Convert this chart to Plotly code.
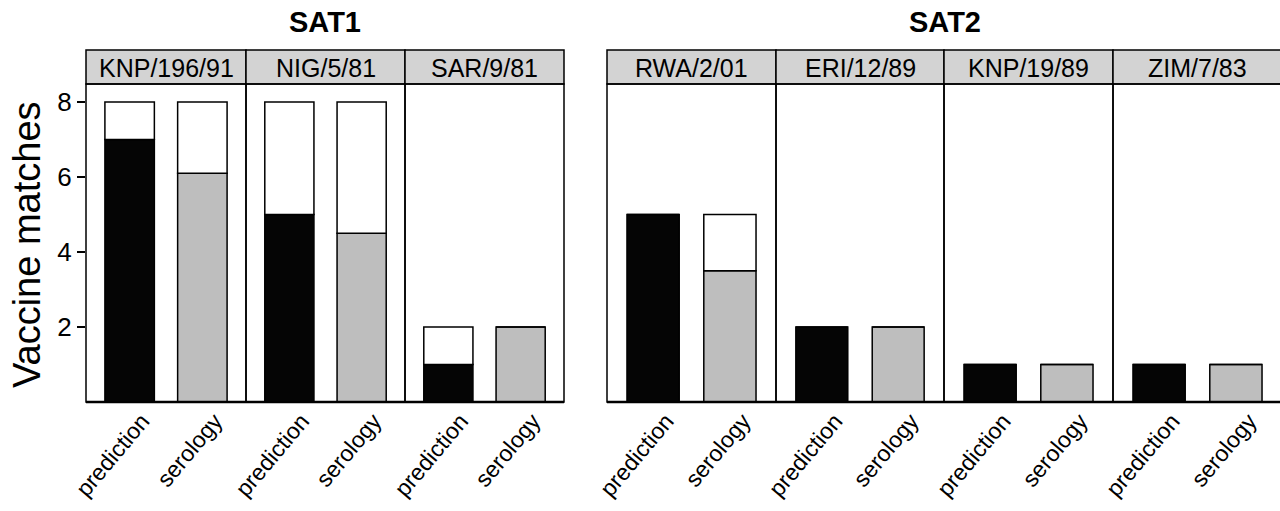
import plotly.graph_objects as go

# ---- data ----
sat1_strains = ["KNP/196/91", "NIG/5/81", "SAR/9/81"]
sat2_strains = ["RWA/2/01", "ERI/12/89", "KNP/19/89", "ZIM/7/83"]
methods = ["prediction", "serology"]
prediction = [7, 5, 1, 5, 2, 1, 1]
serology = [6.1, 4.5, 2, 3.5, 2, 1, 1]
total = [8, 8, 2, 5, 2, 1, 1]
group_titles = ["SAT1", "SAT2"]
y_ticks = [2, 4, 6, 8]

# ---- layout geometry (page pixels; page body margin removed below) ----
OFF = 0
W, H = 1280, 511
panel_px = [(86, 246), (246, 405), (405, 564),
            (607, 776), (776, 944), (944, 1113), (1113, 1282)]
plot_top, plot_bottom, strip_top = 84, 402, 50
YMAX = (plot_bottom - plot_top) / 37.5
LABEL_SHIFT = 0.17  # rotated labels sit slightly right of bar centres

def fx(px):
    return (px - OFF) / W

def fy(py):
    return 1 - (py - OFF) / H

strains = sat1_strains + sat2_strains
fig = go.Figure()
FONT = "Liberation Sans, Arial, Helvetica, sans-serif"
shapes = []
annotations = []

for i, s in enumerate(strains):
    n = i + 1
    xa = "x" if n == 1 else f"x{n}"
    ya = "y" if n == 1 else f"y{n}"
    x0, x1 = panel_px[i]
    width_nom = x1 - x0
    d1 = min(x1, 1280)
    rng_end = -0.6 + 2.2 * (d1 - x0) / width_nom
    base = [prediction[i], serology[i]]
    rest = [total[i] - prediction[i], total[i] - serology[i]]
    fig.add_trace(go.Bar(x=[0, 1], y=base, width=0.68, xaxis=xa, yaxis=ya,
                         marker=dict(color=["#050505", "#bebebe"],
                                     line=dict(color="black", width=1.5)),
                         showlegend=False, hoverinfo="skip"))
    fig.add_trace(go.Bar(x=[0, 1], y=rest, base=base, width=0.68, xaxis=xa, yaxis=ya,
                         marker=dict(color="white",
                                     line=dict(color="black", width=1.5)),
                         showlegend=False, hoverinfo="skip"))
    xkey = "xaxis" if n == 1 else f"xaxis{n}"
    ykey = "yaxis" if n == 1 else f"yaxis{n}"
    fig.layout[xkey] = dict(domain=[fx(x0), fx(d1)], range=[-0.6, rng_end],
                            anchor=ya,
                            tickvals=[LABEL_SHIFT, 1 + LABEL_SHIFT], ticktext=methods,
                            tickangle=-50, ticks="", showgrid=False, zeroline=False,
                            showline=False, automargin=False,
                            tickfont=dict(size=23, color="black", family=FONT))
    ydict = dict(domain=[fy(plot_bottom), fy(plot_top)], range=[0, YMAX],
                 anchor=xa, showgrid=False, zeroline=False, showline=False,
                 automargin=False)
    if n == 1:
        ydict.update(tickvals=y_ticks, ticks="outside", ticklen=8, tickwidth=1.5,
                     tickcolor="black",
                     tickfont=dict(size=26, color="black", family=FONT))
    else:
        ydict.update(showticklabels=False)
    fig.layout[ykey] = ydict

    # strip
    shapes.append(dict(type="rect", xref="paper", yref="paper",
                       x0=fx(x0), x1=fx(x1), y0=fy(plot_top), y1=fy(strip_top),
                       fillcolor="#d3d3d3", line=dict(color="black", width=1.5),
                       layer="below"))
    annotations.append(dict(text=s, xref="paper", yref="paper",
                            x=fx((x0 + x1) / 2), y=fy((plot_top + strip_top) / 2 + 1),
                            showarrow=False, xanchor="center", yanchor="middle",
                            font=dict(size=25, color="black", family=FONT)))
    # panel box
    shapes.append(dict(type="rect", xref="paper", yref="paper",
                       x0=fx(x0), x1=fx(x1), y0=fy(plot_bottom), y1=fy(plot_top),
                       line=dict(color="black", width=1.5), layer="above"))

# bottom axis lines (thicker)
for gx0, gx1 in [(86, 564), (607, 1282)]:
    shapes.append(dict(type="line", xref="paper", yref="paper",
                       x0=fx(gx0), x1=fx(gx1), y0=fy(plot_bottom), y1=fy(plot_bottom),
                       line=dict(color="black", width=2.5), layer="above"))

# group titles
for t, (gx0, gx1) in zip(group_titles, [(86, 564), (607, 1282)]):
    annotations.append(dict(text=f"<b>{t}</b>", xref="paper", yref="paper",
                            x=fx((gx0 + gx1) / 2), y=fy(22), showarrow=False,
                            xanchor="center", yanchor="middle",
                            font=dict(size=29, color="black", family=FONT)))

# y title
annotations.append(dict(text="Vaccine matches", xref="paper", yref="paper",
                        x=fx(27), y=fy(245), textangle=-90, showarrow=False,
                        xanchor="center", yanchor="middle",
                        font=dict(size=38, color="black", family=FONT)))

fig.update_layout(width=W, height=H, margin=dict(l=0, r=0, t=0, b=0),
                  barmode="overlay", plot_bgcolor="white", paper_bgcolor="white",
                  shapes=shapes, annotations=annotations)

fig.write_html("out.html",
               config={"displayModeBar": False, "staticPlot": True},
               post_script="document.body.style.margin='0';"
                           "document.body.style.overflow='hidden';")
